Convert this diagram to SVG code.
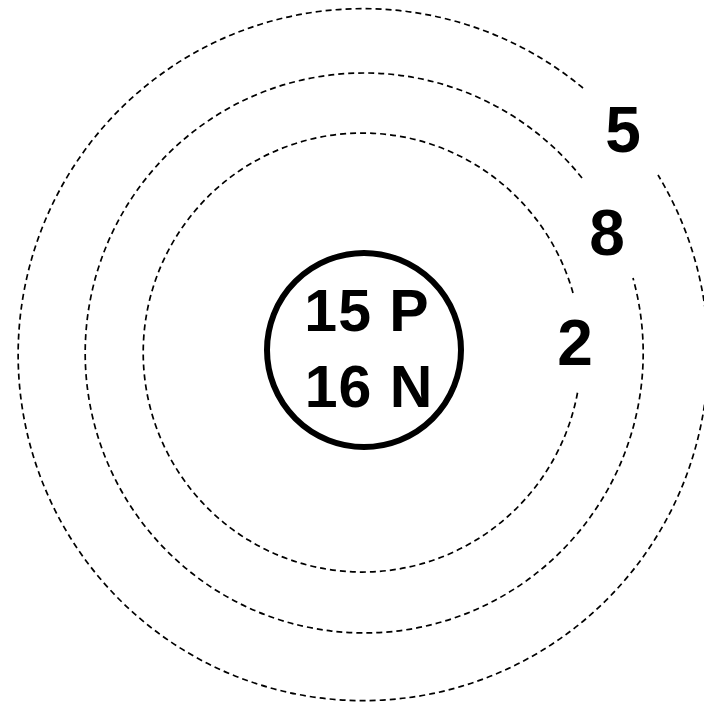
<svg xmlns="http://www.w3.org/2000/svg" width="704" height="705" viewBox="0 0 704 705">
<style>
.orbit{fill:none;stroke:#000;stroke-width:1.7;stroke-dasharray:6 4}
.t{font-family:"Liberation Sans",Arial,sans-serif;font-weight:bold;fill:#000}
</style>
<rect width="704" height="705" fill="#fff"/>
<g id="orbits">
<path id="orbit-outer" class="orbit" d="M 583 88 A 345 346 0 1 0 658 175"/>
<path id="orbit-middle" class="orbit" d="M 582 178 A 279 280 0 1 0 633 278"/>
<path id="orbit-inner" class="orbit" d="M 573 293 A 219 219.5 0 1 0 578 390"/>
</g>
<g id="nucleus">
<circle cx="364" cy="350" r="97" fill="none" stroke="#000" stroke-width="6"/>
<text class="t" x="367" y="331" font-size="59" text-anchor="middle" letter-spacing="1">15 P</text>
<text class="t" x="369" y="407" font-size="59" text-anchor="middle" letter-spacing="1">16 N</text>
</g>
<g id="labels">
<text class="t" x="623" y="152" font-size="64" text-anchor="middle">5</text>
<text class="t" x="607" y="255" font-size="64" text-anchor="middle">8</text>
<text class="t" x="575" y="365" font-size="64" text-anchor="middle">2</text>
</g>
</svg>
